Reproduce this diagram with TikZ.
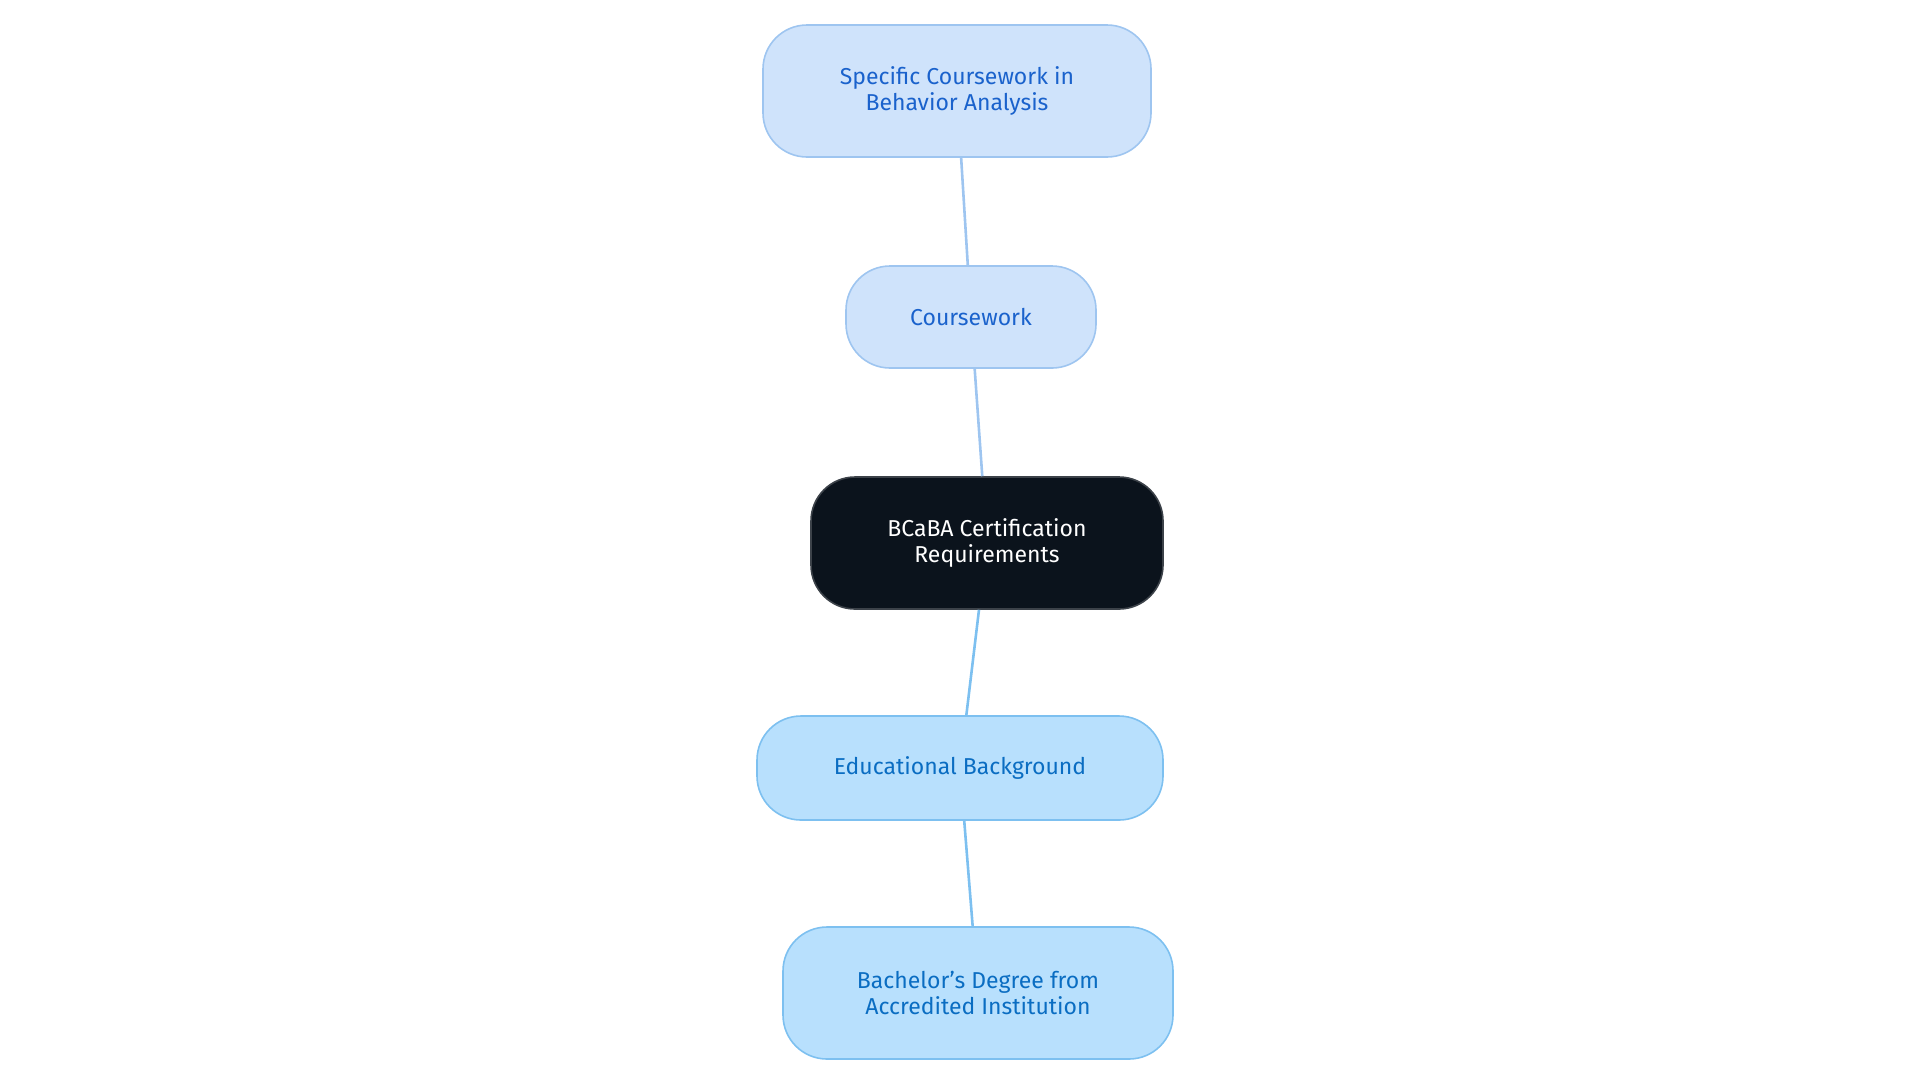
\documentclass[tikz,border=0pt]{standalone}
\usepackage{fontspec}
\setmainfont{Fira Sans}
\usepackage{tikz}
\usetikzlibrary{positioning}
\definecolor{paleblue}{HTML}{CFE3FB}
\definecolor{paleedge}{HTML}{9EC5F0}
\definecolor{paletext}{HTML}{1A62CC}
\definecolor{skyblue}{HTML}{B8E0FD}
\definecolor{skyedge}{HTML}{7DC0F0}
\definecolor{skytext}{HTML}{0A6DC2}
\definecolor{rootdark}{HTML}{0B131C}

\begin{document}
\begin{tikzpicture}[x=0.5pt, y=-0.5pt,
    box/.style={rounded corners=22pt, align=center, font=\fontsize{11.5}{13}\selectfont, line width=0.8pt},
    upper/.style={box, fill=paleblue, draw=paleedge, text=paletext},
    lower/.style={box, fill=skyblue, draw=skyedge, text=skytext},
    root/.style={box, fill=rootdark, draw=rootdark!80, text=white},
    link/.style={line width=1.3pt}]
    \useasboundingbox (0,0) rectangle (1920,1083);

    % Nodes
    \node[root, minimum width=176pt, minimum height=66pt] (req) at (987,543) {BCaBA Certification\\Requirements};
    \node[upper, minimum width=125pt, minimum height=51pt] (cw) at (971,317) {Coursework};
    \node[upper, minimum width=194pt, minimum height=66pt] (spec) at (957,91) {Specific Coursework in\\Behavior Analysis};
    \node[lower, minimum width=203pt, minimum height=52pt] (edu) at (960,768) {Educational Background};
    \node[lower, minimum width=195pt, minimum height=66pt] (deg) at (978,993) {Bachelor's Degree from\\Accredited Institution};

    % Links
    \draw[link, paleedge] (req) -- (cw);
    \draw[link, paleedge] (cw) -- (spec);
    \draw[link, skyedge] (req) -- (edu);
    \draw[link, skyedge] (edu) -- (deg);
\end{tikzpicture}
\end{document}
